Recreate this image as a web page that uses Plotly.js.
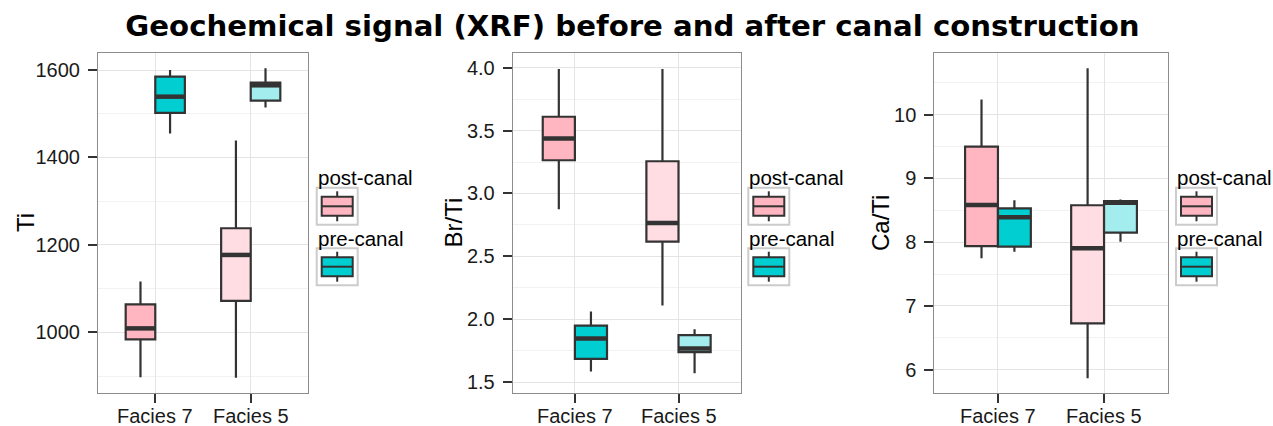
<!DOCTYPE html>
<html>
<head>
<meta charset="utf-8">
<script src="https://cdn.plot.ly/plotly-3.0.1.min.js"></script>
<style>
  html, body { margin: 0; padding: 0; background: #ffffff; }
  #chart { width: 1273px; height: 426px; }
</style>
</head>
<body>
<div id="chart"></div>
<script>
// Facies groups on the x axis and the two sampling periods
const categories = ['Facies 7', 'Facies 5'];
const periods = ['post-canal', 'pre-canal'];

// Box summaries, one row per facies (Facies 7, Facies 5):
// [lower whisker, Q1, median, Q3, upper whisker]
const tiPost = [[897, 984, 1009, 1064, 1116], [896, 1072, 1177, 1238, 1439]];
const tiPre  = [[1455, 1502, 1539, 1585, 1600], [1514, 1530, 1565, 1571, 1604]];

const brTiPost = [[2.874, 3.264, 3.436, 3.610, 3.990], [2.108, 2.617, 2.765, 3.256, 3.990]];
const brTiPre  = [[1.583, 1.684, 1.846, 1.949, 2.060], [1.570, 1.738, 1.766, 1.873, 1.920]];

const caTiPost = [[7.747, 7.940, 8.584, 9.498, 10.240], [5.865, 6.728, 7.904, 8.580, 10.730]];
const caTiPre  = [[7.850, 7.930, 8.390, 8.530, 8.660], [8.008, 8.149, 8.620, 8.646, 8.670]];

// ---- drawing ----
const W = 1273, H = 426;
const px = v => v / W;          // pixel -> paper x
const py = v => 1 - v / H;      // pixel -> paper y

const OUTLINE = '#333333';
const FILLS = {
  'post-canal': ['#FFB6C1', '#FFDDE3'],
  'pre-canal':  ['#00CED1', '#A3EDEE']
};
const KEY_FILL = { 'post-canal': '#FFB6C1', 'pre-canal': '#00CED1' };
const BOX_W = 0.31, DODGE = 0.155;
const TEXT_FONT = 'Liberation Sans, Arial, Helvetica, sans-serif';

const panels = [
  { label: 'Ti',    post: tiPost,   pre: tiPre,   dom: [98, 308],     range: [861.2, 1638.9], tick0: 1000, dtick: 200, minor: 100,  fmt: 'd',   titleX: 25,    legendX: 316.7 },
  { label: 'Br/Ti', post: brTiPost, pre: brTiPre, dom: [512.7, 740.7], range: [1.4125, 4.117], tick0: 1.5,  dtick: 0.5, minor: 0.25, fmt: '.1f', titleX: 452.5, legendX: 748.3 },
  { label: 'Ca/Ti', post: caTiPost, pre: caTiPre, dom: [934.3, 1167.7], range: [5.635, 10.968], tick0: 6,   dtick: 1,   minor: 0.5,  fmt: 'd',   titleX: 880,   legendX: 1176 }
];

const PLOT_TOP = 53, PLOT_BOTTOM = 393;

const traces = [];
const shapes = [];
const annotations = [];
const layout = {
  width: W, height: H,
  margin: { l: 0, r: 0, t: 0, b: 0, pad: 0 },
  paper_bgcolor: '#ffffff',
  plot_bgcolor: '#ffffff',
  showlegend: false,
  hovermode: false,
  boxmode: 'overlay',
  title: {
    text: 'Geochemical signal (XRF) before and after canal construction',
    font: { family: 'DejaVu Sans, Verdana, sans-serif', size: 29.2, weight: 'bold', color: '#000000' },
    x: px(632.5), xanchor: 'center', xref: 'paper',
    y: py(26), yanchor: 'middle', yref: 'container'
  }
};

panels.forEach((p, i) => {
  const n = i === 0 ? '' : String(i + 1);
  const xa = 'x' + n, ya = 'y' + n;

  layout['xaxis' + n] = {
    domain: [px(p.dom[0]), px(p.dom[1])],
    anchor: ya,
    range: [0.4, 2.6],
    tickmode: 'array',
    tickvals: categories.map((c, k) => k + 1),
    ticktext: categories,
    showticklabels: false,
    ticks: 'outside', ticklen: 9, tickwidth: 2, tickcolor: OUTLINE,
    showgrid: true, gridcolor: '#E4E4E4', gridwidth: 1,
    zeroline: false,
    showline: true, mirror: true, linecolor: '#8C8C8C', linewidth: 1,
    fixedrange: true
  };
  layout['yaxis' + n] = {
    domain: [py(PLOT_BOTTOM), py(PLOT_TOP)],
    anchor: xa,
    range: p.range,
    tickmode: 'linear', tick0: p.tick0, dtick: p.dtick,
    tickformat: p.fmt,
    ticks: 'outside', ticklen: 9, tickwidth: 2, tickcolor: OUTLINE,
    ticklabelstandoff: 4,
    tickfont: { family: TEXT_FONT, size: 20, color: '#1A1A1A' },
    showgrid: true, gridcolor: '#E4E4E4', gridwidth: 1,
    minor: { dtick: p.minor, showgrid: true, gridcolor: '#F2F2F2', gridwidth: 1, ticks: '' },
    zeroline: false,
    showline: true, mirror: true, linecolor: '#8C8C8C', linewidth: 1,
    fixedrange: true
  };

  // category labels under the x ticks, placed on the data axis
  categories.forEach((cat, c) => {
    annotations.push({
      xref: xa, yref: 'paper', x: c + 1, y: py(416),
      xanchor: 'center', yanchor: 'middle', showarrow: false,
      text: cat, font: { family: TEXT_FONT, size: 20, color: '#1A1A1A' }
    });
  });

  // boxes: post-canal on the left half of each facies slot, pre-canal on the right
  periods.forEach((period, k) => {
    const rows = k === 0 ? p.post : p.pre;
    categories.forEach((cat, c) => {
      const s = rows[c];
      const xc = (c + 1) + (k === 0 ? -DODGE : DODGE);
      traces.push({
        type: 'box', xaxis: xa, yaxis: ya, orientation: 'v',
        name: period + ' ' + cat,
        x: [xc],
        lowerfence: [s[0]], q1: [s[1]], median: [s[2]], q3: [s[3]], upperfence: [s[4]],
        width: BOX_W, whiskerwidth: 0, boxpoints: false,
        fillcolor: FILLS[period][c],
        line: { color: OUTLINE, width: 2.2 },
        hoverinfo: 'skip'
      });
      // heavier median bar
      traces.push({
        type: 'scatter', mode: 'lines', xaxis: xa, yaxis: ya,
        x: [xc - BOX_W / 2, xc + BOX_W / 2], y: [s[2], s[2]],
        line: { color: OUTLINE, width: 4.5 },
        hoverinfo: 'skip', showlegend: false
      });
    });
  });

  // y-axis title
  annotations.push({
    xref: 'paper', yref: 'paper', x: px(p.titleX), y: py((PLOT_TOP + PLOT_BOTTOM) / 2),
    xanchor: 'center', yanchor: 'middle', textangle: -90, showarrow: false,
    text: p.label, font: { family: TEXT_FONT, size: 24, color: '#000000' }
  });

  // per-panel key: label above a framed box glyph
  const L = p.legendX;
  const centres = [206.3, 266.7];
  periods.forEach((period, k) => {
    const cy = centres[k];
    annotations.push({
      xref: 'paper', yref: 'paper', x: px(L - 1), y: py(cy - 28.5),
      xanchor: 'left', yanchor: 'middle', showarrow: false,
      text: period, font: { family: TEXT_FONT, size: 20.5, color: '#000000' }
    });
    shapes.push({ type: 'rect', xref: 'paper', yref: 'paper',
      x0: px(L), x1: px(L + 41), y0: py(cy + 18.5), y1: py(cy - 18.5),
      line: { color: '#CCCCCC', width: 2 }, fillcolor: '#ffffff' });
    shapes.push({ type: 'line', xref: 'paper', yref: 'paper',
      x0: px(L + 20.5), x1: px(L + 20.5), y0: py(cy + 15), y1: py(cy - 15),
      line: { color: OUTLINE, width: 2 } });
    shapes.push({ type: 'rect', xref: 'paper', yref: 'paper',
      x0: px(L + 5), x1: px(L + 36), y0: py(cy + 9.5), y1: py(cy - 9.5),
      line: { color: OUTLINE, width: 2 }, fillcolor: KEY_FILL[period] });
    shapes.push({ type: 'line', xref: 'paper', yref: 'paper',
      x0: px(L + 5), x1: px(L + 36), y0: py(cy), y1: py(cy),
      line: { color: OUTLINE, width: 2 } });
  });
});

layout.shapes = shapes;
layout.annotations = annotations;

Plotly.newPlot('chart', traces, layout, { staticPlot: true, displayModeBar: false });
</script>
</body>
</html>
